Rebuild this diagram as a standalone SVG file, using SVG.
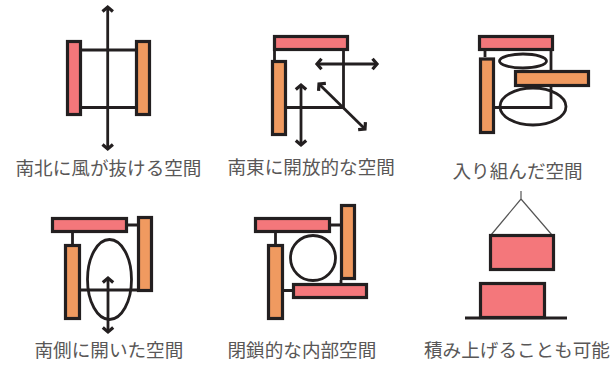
<svg xmlns="http://www.w3.org/2000/svg" width="610" height="366" viewBox="0 0 610 366">
<style>
.p{fill:#f4777b;stroke:#231f20;stroke-width:3.200}
.o{fill:#f09a60;stroke:#231f20;stroke-width:3.200}
.c{fill:none;stroke:#231f20;stroke-width:2.800}
.a{fill:none;stroke:#231f20;stroke-width:2.800;marker-start:url(#h);marker-end:url(#h)}
.e{fill:none;stroke:#231f20;stroke-width:2.800}
.t{font-family:"Noto Sans CJK JP","Noto Sans",sans-serif;font-size:18.600px;fill:#595757}
</style>
<defs>
<marker id="h" viewBox="-8 -8 16 16" markerUnits="userSpaceOnUse" markerWidth="16" markerHeight="16" refX="0" refY="0" orient="auto-start-reverse">
<path d="M-4.500 -5.200 L0 0 L-4.500 5.200" fill="none" stroke="#231f20" stroke-width="3.200"/>
</marker>
</defs>
<rect width="610" height="366" fill="#fff"/>
<g id="connectors">
<path class="c" d="M81 50H135M81 107.500H135"/>
<path class="a" d="M107.700 7V149"/>
<path class="c" d="M274.500 51V60M343.500 51V107.500H287"/>
<path class="a" d="M317 64H377"/>
<path class="a" d="M301 85V145"/>
<path class="a" d="M319 84L365 129"/>
<path class="c" d="M485 51V57M551 51V107.500H495"/>
<path class="c" d="M128 225H137M72.500 233V244M81 290H137"/>
<path class="a" d="M108 278V332"/>
<path class="c" d="M331 225H340M275.500 233V244M284 290.500H292M341 280V283"/>
<path d="M521 191V199M491 235L521 199L552 235" fill="none" stroke="#555" stroke-width="1.200"/>
<path class="c" d="M465 318H567" style="stroke-width:3"/>
</g>
<g id="n1">
<rect class="p" x="67.500" y="41.500" width="13" height="73"/>
<rect class="o" x="136.500" y="41.500" width="13" height="73"/>
<text class="t" x="15.500" y="175">南北に風が抜ける空間</text>
</g>
<g id="n2">
<rect class="p" x="274.500" y="36.500" width="73" height="13"/>
<rect class="o" x="272.500" y="61.500" width="13" height="73"/>
<text class="t" x="227.500" y="174">南東に開放的な空間</text>
</g>
<g id="n3">
<ellipse class="e" cx="523" cy="61" rx="23.500" ry="7"/>
<rect class="p" x="479.500" y="36.500" width="73" height="13"/>
<rect class="o" x="480.500" y="59" width="13" height="73.500"/>
<rect class="o" x="515.500" y="71.500" width="73" height="14"/>
<ellipse class="e" cx="533" cy="106.500" rx="33" ry="18.500"/>
<text class="t" x="452.500" y="178">入り組んだ空間</text>
</g>
<g id="n4">
<rect class="p" x="52.500" y="218.500" width="74" height="13"/>
<rect class="o" x="138.500" y="217.500" width="13" height="73"/>
<rect class="o" x="65.500" y="245.500" width="14" height="73"/>
<ellipse class="e" cx="109.500" cy="279.500" rx="22" ry="40"/>
<text class="t" x="34.500" y="357">南側に開いた空間</text>
</g>
<g id="n5">
<rect class="p" x="255.500" y="218.500" width="74" height="13"/>
<rect class="o" x="341.500" y="205.500" width="13" height="73"/>
<rect class="o" x="268.500" y="245.500" width="14" height="73"/>
<rect class="p" x="293.500" y="284.500" width="73" height="13"/>
<circle class="e" cx="313" cy="258" r="22.500"/>
<text class="t" x="227.500" y="357">閉鎖的な内部空間</text>
</g>
<g id="n6">
<rect class="p" x="490.500" y="235.500" width="63" height="34"/>
<rect class="p" x="480.500" y="283.500" width="64" height="34"/>
<text class="t" x="424" y="357">積み上げることも可能</text>
</g>
</svg>
